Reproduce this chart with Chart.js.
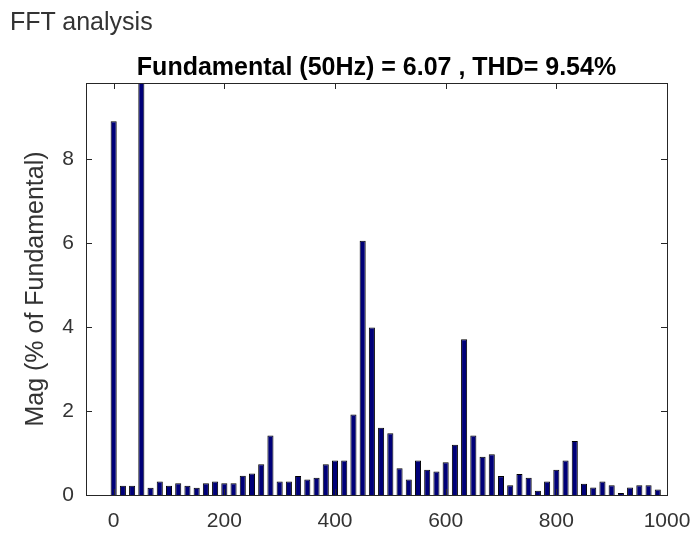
<!DOCTYPE html>
<html lang="en">
<head>
 <meta charset="UTF-8">
 <title>FFT analysis</title>
 <script src="https://cdn.jsdelivr.net/npm/chart.js"></script>
 <style>
   body { margin: 0; background: #fff; }
   .wrap { position: relative; width: 696px; height: 535px; }
   .wrap canvas { position: absolute; left: 0; top: 0; }
   .head { position: absolute; left: 10px; top: 7px; font: 25px "Liberation Sans", Arial, sans-serif; color: #333; }
 </style>
</head>
<body>
 <div class="wrap">
   <canvas id="fft" width="696" height="535"></canvas>
   <div class="head">FFT analysis</div>
 </div>

 <script>
 // frequency of each bin (Hz)
 const freqs = [0, 16.67, 33.33, 50, 66.67, 83.33, 100, 116.67, 133.33, 150,
   166.67, 183.33, 200, 216.67, 233.33, 250, 266.67, 283.33, 300, 316.67,
   333.33, 350, 366.67, 383.33, 400, 416.67, 433.33, 450, 466.67, 483.33,
   500, 516.67, 533.33, 550, 566.67, 583.33, 600, 616.67, 633.33, 650,
   666.67, 683.33, 700, 716.67, 733.33, 750, 766.67, 783.33, 800, 816.67,
   833.33, 850, 866.67, 883.33, 900, 916.67, 933.33, 950, 966.67, 983.33];

 // magnitude, % of fundamental (50 Hz bin = 100, goes off the top)
 const mags = [8.91, 0.22, 0.22, 100, 0.17, 0.32, 0.22, 0.28, 0.22, 0.17,
   0.28, 0.32, 0.28, 0.28, 0.46, 0.51, 0.73, 1.42, 0.32, 0.32,
   0.45, 0.37, 0.41, 0.73, 0.82, 0.82, 1.92, 6.06, 3.99, 1.60,
   1.47, 0.64, 0.37, 0.82, 0.60, 0.56, 0.78, 1.20, 3.71, 1.42,
   0.91, 0.97, 0.45, 0.23, 0.50, 0.41, 0.10, 0.32, 0.60, 0.82,
   1.29, 0.27, 0.18, 0.32, 0.23, 0.05, 0.18, 0.23, 0.23, 0.13];

 const xRange = [-50, 1000];
 const yRange = [0, 9.82];
 const titleText = 'Fundamental (50Hz) = 6.07 , THD= 9.54%';
 const yTitle = 'Mag (% of Fundamental)';

 const FONT = '"Liberation Sans", Arial, sans-serif';

 // matlab style box with ticks pointing inwards
 const boxTicks = {
   id: 'boxTicks',
   afterDatasetsDraw(chart) {
     const { ctx, chartArea: a, scales: { x, y } } = chart;
     const len = 6;
     ctx.save();
     ctx.strokeStyle = '#262626';
     ctx.lineWidth = 1;
     ctx.beginPath();
     x.ticks.forEach(t => {
       const px = Math.round(x.getPixelForValue(t.value)) + 0.5;
       ctx.moveTo(px, a.bottom); ctx.lineTo(px, a.bottom - len);
       ctx.moveTo(px, a.top); ctx.lineTo(px, a.top + len);
     });
     y.ticks.forEach(t => {
       const py = Math.round(y.getPixelForValue(t.value)) + 0.5;
       ctx.moveTo(a.left, py); ctx.lineTo(a.left + len, py);
       ctx.moveTo(a.right, py); ctx.lineTo(a.right - len, py);
     });
     ctx.stroke();
     ctx.strokeRect(Math.round(a.left) + 0.5, Math.round(a.top) + 0.5,
       Math.round(a.right - a.left), Math.round(a.bottom - a.top));
     ctx.restore();
   }
 };

 new Chart(document.getElementById('fft'), {
   type: 'bar',
   data: {
     datasets: [{
       data: freqs.map((f, i) => ({ x: f, y: mags[i] })),
       backgroundColor: '#000078',
       borderColor: '#000000',
       borderWidth: 1,
       barPercentage: 0.66,
       categoryPercentage: 1
     }]
   },
   options: {
     responsive: false,
     animation: false,
     devicePixelRatio: 1,
     layout: { padding: { left: 0, right: 29, top: 0, bottom: 0 } },
     plugins: {
       legend: { display: false },
       tooltip: { enabled: false },
       title: {
         display: true,
         text: titleText,
         fullSize: false,
         color: '#000',
         font: { family: FONT, size: 25, weight: 'bold' },
         padding: { top: 53, bottom: 0 }
       }
     },
     scales: {
       x: {
         type: 'linear',
         min: xRange[0],
         max: xRange[1],
         offset: false,
         grid: { display: false, drawTicks: false },
         border: { display: false },
         ticks: {
           stepSize: 200,
           includeBounds: false,
           autoSkip: false,
           maxRotation: 0,
           padding: 14,
           color: '#333',
           font: { family: FONT, size: 21 },
           callback: v => String(v)
         },
         afterFit(s) {
           s.height = 40;
           // let the last label hang past the box like matlab does
           s.paddingLeft = 0;
           s.paddingRight = 0;
         }
       },
       y: {
         min: yRange[0],
         max: yRange[1],
         grid: { display: false, drawTicks: false },
         border: { display: false },
         ticks: {
           stepSize: 2,
           includeBounds: false,
           padding: 12,
           color: '#333',
           font: { family: FONT, size: 21 },
           callback: v => String(v)
         },
         title: {
           display: true,
           text: yTitle,
           color: '#333',
           font: { family: FONT, size: 25 },
           padding: { top: 21, bottom: 0 }
         },
         afterFit(s) {
           s.width = 86;
           s.paddingTop = 0;
           s.paddingBottom = 0;
         }
       }
     }
   },
   plugins: [boxTicks]
 });
 </script>
</body>
</html>
